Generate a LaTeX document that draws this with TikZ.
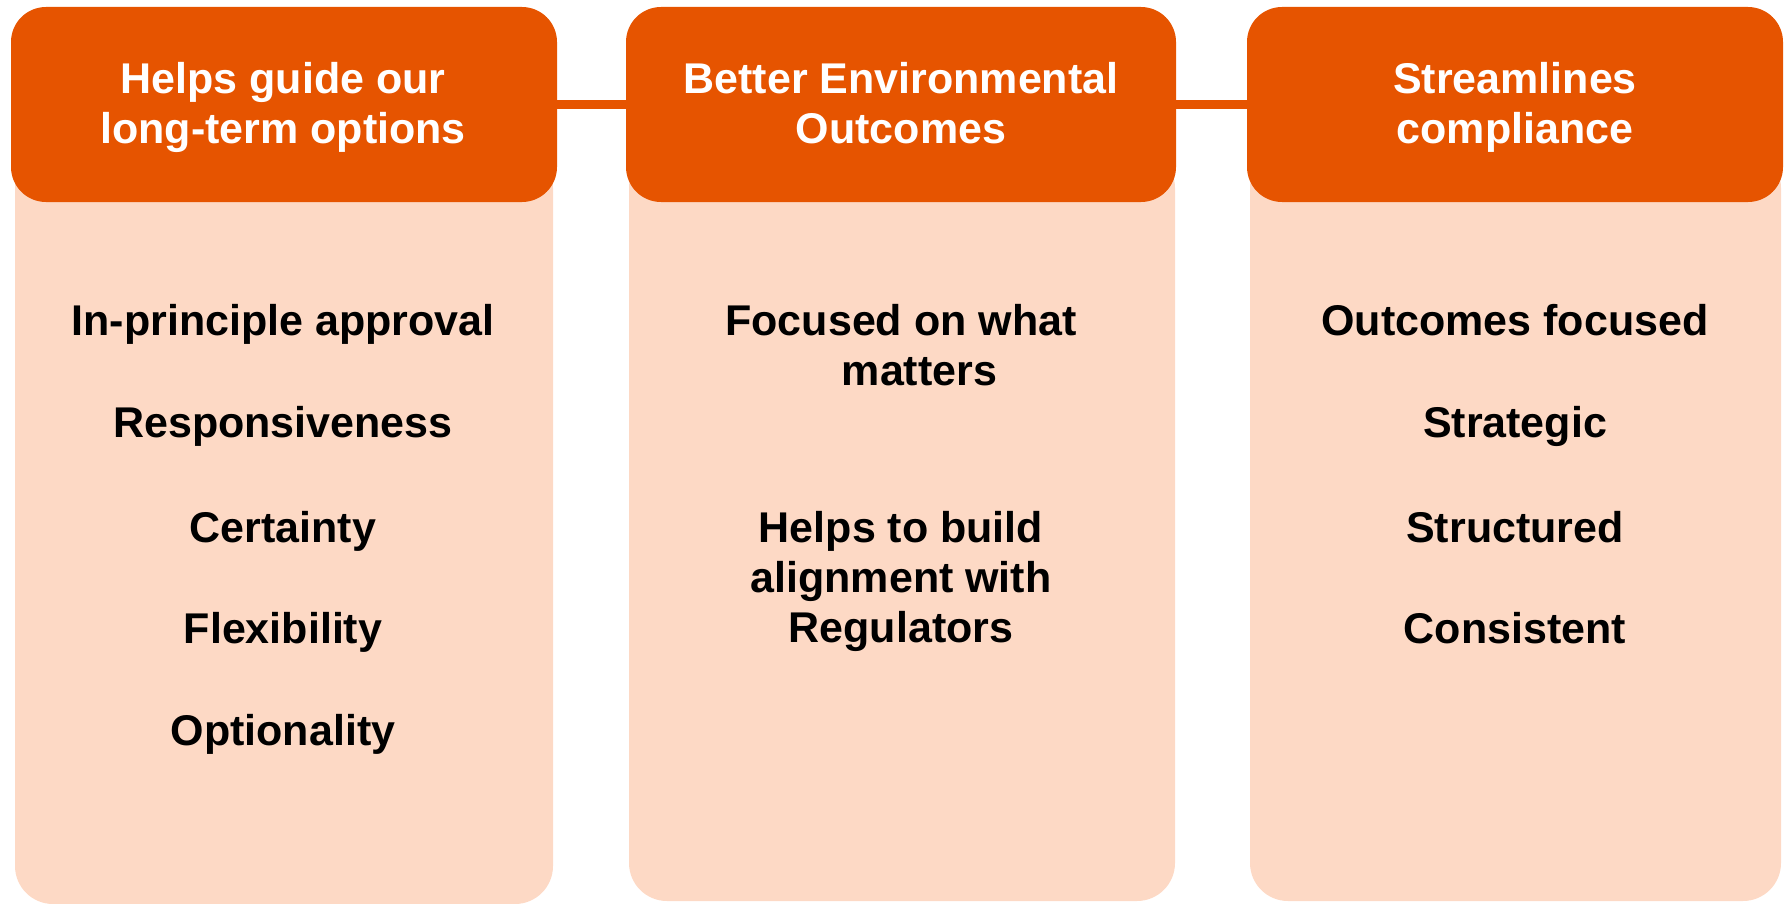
\documentclass[tikz,border=0pt]{standalone}
\usepackage{fontspec}
\setmainfont{Liberation Sans}
\usetikzlibrary{positioning}
\definecolor{hdorange}{RGB}{230,84,0}
\definecolor{bodypeach}{RGB}{253,217,197}
\tikzset{
	head/.style={fill=hdorange, rounded corners=17.5pt, minimum height=97.5pt, inner sep=0pt},
	headtext/.style={text=white, inner sep=0pt, anchor=base, align=center, font=\fontsize{21.5}{25}\selectfont\bfseries},
	panel/.style={fill=bodypeach, rounded corners=19pt, inner sep=0pt},
	item/.style={inner sep=0pt, anchor=base, align=center, font=\fontsize{21.5}{25}\selectfont\bfseries},
	link/.style={draw=hdorange, line width=4.5pt}
}

\begin{document}
\begin{tikzpicture}[x=0.5pt, y=-0.5pt]
			%%%%% START %%%%%
			\useasboundingbox (0, 0) rectangle (1789, 904);
			
			\node[panel, minimum width=269pt, minimum height=377pt] (panelA) at (284, 527) {};
			\node[panel, minimum width=273pt, minimum height=375.5pt] (panelB) at (902, 525.5) {};
			\node[panel, minimum width=265.5pt, minimum height=375.5pt] (panelC) at (1515.5, 525.5) {};
			
			\node[head, minimum width=273pt] (headA) at (284, 104.5) {};
			\node[head, minimum width=275pt] (headB) at (901, 104.5) {};
			\node[head, minimum width=268pt] (headC) at (1515, 104.5) {};
			
			\draw[link] (headA.east) -- (headB.west);
			\draw[link] (headB.east) -- (headC.west);
			
			% base of a two-line node is its last line
			\node[headtext] (titleA) at (283, 144) {Helps guide our\\long-term options};
			\node[headtext] (titleB) at (901, 144) {Better Environmental\\Outcomes};
			\node[headtext] (titleC) at (1515, 144) {Streamlines\\compliance};
			
			\node[item] (approval) at (283, 335) {In-principle approval};
			\node[item] (responsive) at (283, 437) {Responsiveness};
			\node[item] (certainty) at (283, 542) {Certainty};
			\node[item] (flexible) at (283, 643) {Flexibility};
			\node[item] (optional) at (283, 745) {Optionality};
			
			\node[item] (focused) at (901, 385) {Focused on what\\\hspace*{18.5pt}matters};
			\node[item] (alignment) at (901, 642) {Helps to build\\alignment with\\Regulators};
			
			\node[item] (outcomes) at (1515, 335) {Outcomes focused};
			\node[item] (strategic) at (1515, 437) {Strategic};
			\node[item] (structured) at (1515, 542) {Structured};
			\node[item] (consistent) at (1515, 643) {Consistent};
			
			%%%%% END %%%%%
\end{tikzpicture}
\end{document}
